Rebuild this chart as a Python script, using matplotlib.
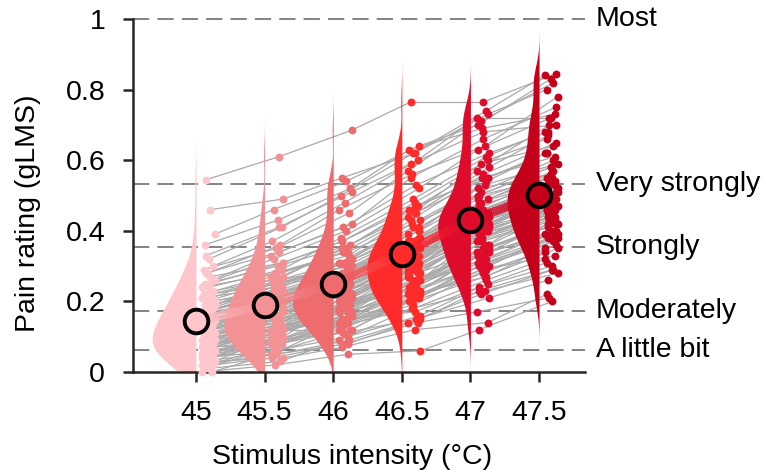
import numpy as np
import matplotlib
matplotlib.use("Agg")
import matplotlib.pyplot as plt
from matplotlib.collections import LineCollection
from matplotlib.colors import to_rgba

plt.rcParams['font.family'] = ['Liberation Sans', 'DejaVu Sans']

# ---------------- data ----------------
temps = [45, 45.5, 46, 46.5, 47, 47.5]
tick_labels = ['45', '45.5', '46', '46.5', '47', '47.5']
ytick_vals = [0, 0.2, 0.4, 0.6, 0.8, 1.0]
ytick_labels = ['0', '0.2', '0.4', '0.6', '0.8', '1']
colors = ['#FFC6CB', '#F39294', '#EE6B6E', '#FF2A2A', '#DF0B2A', '#C4001A']
glms_levels = [0.061, 0.172, 0.354, 0.533, 1.0]
glms_labels = ['A little bit', 'Moderately', 'Strongly', 'Very strongly', 'Most']

# per-subject ratings (same subject order in every list)
r45 = [0.00, 0.00, 0.01, 0.01, 0.02, 0.02, 0.03, 0.03, 0.03, 0.04,
       0.04, 0.04, 0.05, 0.05, 0.05, 0.06, 0.06, 0.06, 0.06, 0.07,
       0.07, 0.07, 0.07, 0.08, 0.08, 0.08, 0.08, 0.09, 0.09, 0.09,
       0.09, 0.10, 0.10, 0.10, 0.10, 0.11, 0.11, 0.11, 0.12, 0.12,
       0.12, 0.13, 0.13, 0.13, 0.14, 0.14, 0.14, 0.15, 0.15, 0.16,
       0.16, 0.16, 0.17, 0.17, 0.18, 0.18, 0.19, 0.19, 0.20, 0.20,
       0.21, 0.21, 0.22, 0.22, 0.23, 0.24, 0.25, 0.26, 0.27, 0.28,
       0.24, 0.26, 0.28, 0.29, 0.30, 0.32, 0.36, 0.39, 0.46, 0.545,
       0.05, 0.08, 0.10, 0.12, 0.14, 0.15, 0.17, 0.19, 0.22, 0.18,
       0.02, 0.04, 0.07, 0.09, 0.11, 0.13, 0.16, 0.20, 0.25, 0.33]
r455 = [0.02, 0.05, 0.03, 0.07, 0.04, 0.08, 0.06, 0.10, 0.04, 0.09,
        0.06, 0.11, 0.08, 0.05, 0.12, 0.09, 0.13, 0.07, 0.10, 0.08,
        0.12, 0.09, 0.14, 0.11, 0.10, 0.13, 0.09, 0.15, 0.12, 0.11,
        0.13, 0.16, 0.12, 0.14, 0.18, 0.13, 0.15, 0.12, 0.17, 0.14,
        0.16, 0.18, 0.15, 0.20, 0.17, 0.19, 0.16, 0.21, 0.18, 0.20,
        0.19, 0.22, 0.20, 0.23, 0.21, 0.24, 0.22, 0.25, 0.23, 0.26,
        0.24, 0.27, 0.25, 0.28, 0.26, 0.29, 0.30, 0.32, 0.31, 0.34,
        0.28, 0.33, 0.36, 0.35, 0.37, 0.41, 0.43, 0.46, 0.49, 0.61,
        0.09, 0.12, 0.15, 0.16, 0.19, 0.20, 0.22, 0.24, 0.27, 0.26,
        0.05, 0.08, 0.11, 0.14, 0.16, 0.19, 0.21, 0.24, 0.31, 0.41]
r46 = [0.05, 0.14, 0.09, 0.17, 0.08, 0.13, 0.12, 0.19, 0.07, 0.16,
       0.10, 0.19, 0.14, 0.09, 0.21, 0.13, 0.17, 0.15, 0.20, 0.12,
       0.18, 0.11, 0.22, 0.16, 0.19, 0.14, 0.17, 0.23, 0.15, 0.21,
       0.17, 0.23, 0.12, 0.19, 0.25, 0.18, 0.21, 0.15, 0.24, 0.17,
       0.22, 0.20, 0.18, 0.26, 0.23, 0.21, 0.19, 0.28, 0.25, 0.22,
       0.24, 0.27, 0.23, 0.29, 0.26, 0.31, 0.25, 0.30, 0.28, 0.32,
       0.29, 0.34, 0.31, 0.33, 0.35, 0.38, 0.36, 0.40, 0.37, 0.42,
       0.34, 0.41, 0.46, 0.45, 0.48, 0.50, 0.52, 0.54, 0.55, 0.685,
       0.14, 0.18, 0.20, 0.23, 0.24, 0.27, 0.28, 0.31, 0.35, 0.30,
       0.08, 0.13, 0.17, 0.19, 0.22, 0.25, 0.27, 0.31, 0.37, 0.51]
r465 = [0.06, 0.25, 0.18, 0.29, 0.14, 0.22, 0.20, 0.31, 0.12, 0.24,
        0.16, 0.24, 0.20, 0.14, 0.30, 0.18, 0.27, 0.23, 0.25, 0.21,
        0.26, 0.15, 0.32, 0.22, 0.28, 0.19, 0.24, 0.33, 0.17, 0.29,
        0.23, 0.31, 0.20, 0.27, 0.35, 0.25, 0.30, 0.21, 0.34, 0.24,
        0.28, 0.32, 0.26, 0.37, 0.29, 0.31, 0.23, 0.38, 0.33, 0.30,
        0.35, 0.34, 0.32, 0.39, 0.36, 0.41, 0.33, 0.40, 0.37, 0.43,
        0.38, 0.45, 0.42, 0.44, 0.47, 0.49, 0.46, 0.52, 0.48, 0.55,
        0.43, 0.53, 0.56, 0.57, 0.60, 0.62, 0.63, 0.64, 0.62, 0.765,
        0.22, 0.26, 0.29, 0.31, 0.33, 0.35, 0.37, 0.40, 0.45, 0.37,
        0.15, 0.21, 0.25, 0.28, 0.30, 0.33, 0.36, 0.41, 0.47, 0.59]
r47 = [0.12, 0.34, 0.23, 0.40, 0.17, 0.27, 0.29, 0.37, 0.14, 0.32,
       0.24, 0.35, 0.31, 0.22, 0.41, 0.26, 0.38, 0.33, 0.36, 0.28,
       0.39, 0.21, 0.43, 0.30, 0.34, 0.29, 0.37, 0.40, 0.25, 0.42,
       0.33, 0.44, 0.27, 0.38, 0.46, 0.32, 0.41, 0.31, 0.45, 0.35,
       0.39, 0.42, 0.34, 0.48, 0.37, 0.43, 0.30, 0.50, 0.40, 0.44,
       0.47, 0.41, 0.45, 0.51, 0.42, 0.54, 0.46, 0.52, 0.49, 0.56,
       0.48, 0.58, 0.53, 0.59, 0.57, 0.61, 0.55, 0.63, 0.60, 0.66,
       0.50, 0.62, 0.64, 0.71, 0.72, 0.74, 0.69, 0.70, 0.73, 0.765,
       0.30, 0.36, 0.40, 0.41, 0.43, 0.44, 0.46, 0.49, 0.55, 0.46,
       0.23, 0.30, 0.35, 0.38, 0.41, 0.44, 0.46, 0.50, 0.55, 0.68]
r475 = [0.20, 0.42, 0.28, 0.50, 0.21, 0.35, 0.33, 0.47, 0.22, 0.40,
        0.30, 0.41, 0.38, 0.29, 0.48, 0.32, 0.44, 0.39, 0.46, 0.36,
        0.45, 0.26, 0.51, 0.37, 0.42, 0.34, 0.43, 0.49, 0.31, 0.47,
        0.40, 0.52, 0.35, 0.45, 0.55, 0.39, 0.46, 0.38, 0.53, 0.42,
        0.44, 0.50, 0.39, 0.57, 0.43, 0.48, 0.37, 0.58, 0.46, 0.51,
        0.54, 0.45, 0.52, 0.60, 0.49, 0.62, 0.53, 0.56, 0.55, 0.65,
        0.54, 0.67, 0.59, 0.64, 0.70, 0.68, 0.61, 0.72, 0.66, 0.75,
        0.55, 0.68, 0.78, 0.82, 0.72, 0.84, 0.73, 0.83, 0.80, 0.845,
        0.38, 0.44, 0.47, 0.49, 0.50, 0.52, 0.53, 0.56, 0.62, 0.49,
        0.29, 0.38, 0.42, 0.46, 0.49, 0.52, 0.54, 0.58, 0.62, 0.70]

ratings = [r45, r455, r46, r465, r47, r475]

# ---------------- figure ----------------
W, H = 766, 476
FS = 20.5
fig = plt.figure(figsize=(W / 100, H / 100), dpi=100)
ax = fig.add_axes([133 / W, 104 / H, 452 / W, 353 / H])
ax.set_xlim(44.541, 47.835)
ax.set_ylim(0, 1)

# gLMS reference lines
for lv, lab in zip(glms_levels, glms_labels):
    ax.axhline(lv, color='#7a7a7a', lw=1.3, dashes=(9, 4.5), zorder=0, clip_on=False)
    ax.text(1.024, lv, lab, transform=ax.get_yaxis_transform(), ha='left', va='center',
            fontsize=FS, color='black')

n_sub = len(r45)
data = np.array(ratings)  # (6, n)

def jit(i, k):
    return 0.045 + 0.09 * (((i * 7 + k * 3) % 10) / 9.0)

xs = np.array([[temps[k] + jit(i, k) for i in range(n_sub)] for k in range(len(temps))])

# subject lines
segs = []
for k in range(len(temps) - 1):
    for i in range(n_sub):
        segs.append([(xs[k, i], data[k, i]), (xs[k + 1, i], data[k + 1, i])])
ax.add_collection(LineCollection(segs, colors='#aaaaaa', linewidths=0.9, zorder=1))

# half violins
def kde(vals, grid, bw):
    v = np.asarray(vals)[:, None]
    return np.exp(-0.5 * ((grid[None, :] - v) / bw) ** 2).sum(0) / (len(vals) * bw * np.sqrt(2 * np.pi))

bw = 0.04
curves = []
for vals in ratings:
    lo = max(0.0, min(vals) - 3 * bw)
    hi = min(1.0, max(vals) + 3 * bw)
    g = np.linspace(lo, hi, 300)
    curves.append((g, kde(vals, g, bw)))
peak = max(c[1].max() for c in curves)
scale = 0.32 / peak
for k, (g, d) in enumerate(curves):
    ax.fill_betweenx(g, temps[k] - d * scale, temps[k], color=colors[k], lw=0, zorder=2)

# points
for k in range(len(temps)):
    ax.scatter(xs[k], data[k], s=32, color=colors[k], lw=0, zorder=3, clip_on=False)

# mean line with gradient
means = data.mean(axis=1)
gsegs, gcols = [], []
nsub = 40
for k in range(len(temps) - 1):
    c0 = np.array(to_rgba(colors[k]))
    c1 = np.array(to_rgba(colors[k + 1]))
    for j in range(nsub):
        t0, t1 = j / nsub, (j + 1) / nsub
        x0 = temps[k] + (temps[k + 1] - temps[k]) * t0
        x1 = temps[k] + (temps[k + 1] - temps[k]) * t1
        y0 = means[k] + (means[k + 1] - means[k]) * t0
        y1 = means[k] + (means[k + 1] - means[k]) * t1
        gsegs.append([(x0, y0), (x1, y1)])
        c = c0 + (c1 - c0) * (t0 + t1) / 2
        c[3] = 0.85
        gcols.append(c)
ax.add_collection(LineCollection(gsegs, colors=gcols, linewidths=6.5, capstyle='butt', zorder=4))

for k in range(len(temps)):
    ax.plot(temps[k], means[k], 'o', ms=17, mfc=colors[k], mec='black', mew=2.8, zorder=5)

# axes styling
for s in ['top', 'right']:
    ax.spines[s].set_visible(False)
for s in ['left', 'bottom']:
    ax.spines[s].set_linewidth(1.8)
    ax.spines[s].set_color('#262626')
ax.set_xticks(temps)
ax.set_xticklabels(tick_labels)
ax.set_yticks(ytick_vals)
ax.set_yticklabels(ytick_labels)
ax.tick_params(axis='both', direction='out', length=7, width=1.8, color='#262626', labelsize=FS)
ax.tick_params(axis='x', pad=13)
ax.tick_params(axis='y', pad=13)

fig.text(28 / W, 1 - 213 / H, 'Pain rating (gLMS)', rotation=90, ha='center', va='center', fontsize=FS)
fig.text(352 / W, 1 - 457 / H, 'Stimulus intensity (°C)', ha='center', va='center', fontsize=FS)

fig.savefig('out.png', dpi=100)
